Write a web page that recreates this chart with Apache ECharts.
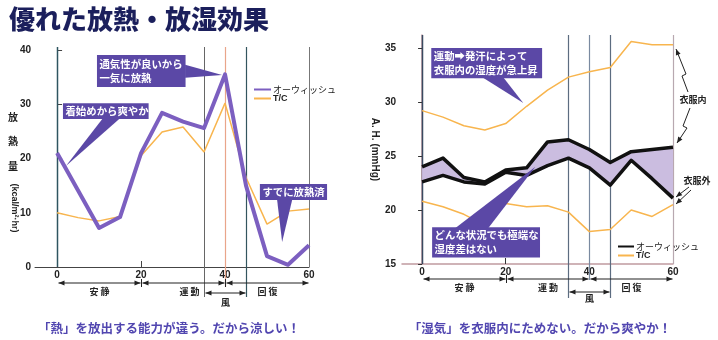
<!DOCTYPE html>
<html><head><meta charset="utf-8">
<script src="https://cdn.jsdelivr.net/npm/echarts@6/dist/echarts.min.js"></script>
<style>html,body{margin:0;padding:0;background:#fff}#c{width:718px;height:340px}</style>
</head><body><div id="c"></div>
<script>
// ---- data ----
const chartTitle = '優れた放熱・放湿効果';
const times = [0, 5, 10, 15, 20, 25, 30, 35, 40, 45, 50, 55, 60];
const xTickLabels = [0, 20, 40, 60];
// left: 放熱量 (kcal/m²·hr)
const heatOwish = [21, null, 7.2, 9.2, 21, 28.4, 26.8, 25.6, 35.5, 15, 2.0, 0.4, 4];
const heatTC    = [10, 9.1, 8.5, 9.3, 20.5, 24.9, 25.8, 21.2, 30.2, 16.5, 7.9, 10.3, 10.7];
const heatYTicks = [0, 10, 20, 30, 40];
// right: A.H. (mmHg)
const ahOwishIn  = [24.0, 24.8, 23.0, 22.6, 23.7, 23.9, 26.3, 26.5, 25.6, 24.4, 25.4, 25.6, 25.8];
const ahOwishOut = [22.6, 23.2, 22.6, 22.4, 23.5, 23.2, 24.1, 24.8, 23.9, 22.3, 24.6, 22.9, 21.1];
const ahTCIn     = [29.2, 28.6, 27.8, 27.4, 28.0, 29.6, 31.1, 32.3, 32.8, 33.2, 35.6, 35.3, 35.3];
const ahTCOut    = [20.8, 20.3, 19.6, 18.6, 20.6, 20.3, 20.4, 19.8, 18.0, 18.2, 20.0, 19.4, 20.5];
const ahYTicks = [15, 20, 25, 30, 35];
// phases
const phases = [
  {name: '安 静', from: 0, to: 20},
  {name: '運 動', from: 20, to: 40},
  {name: '回 復', from: 40, to: 60}
];
const windPhase = {name: '風', from: 35, to: 45};
const captionLeft = '「熱」を放出する能力が違う。だから涼しい！';
const captionRight = '「湿気」を衣服内にためない。だから爽やか！';

const FONT = '"Noto Sans CJK JP", "Noto Sans", sans-serif';
const NUM = '"Liberation Sans", Arial, sans-serif';
const PURPLE = '#7c5fc0', ORANGE = '#f8b54e', BLACK = '#111', BOX = '#5b48a6', BAND = '#cbbde0';

const pairs = (arr) => times.map((t, i) => [t, arr[i]]).filter(p => p[1] != null);

const chart = echarts.init(document.getElementById('c'));
const axisLbl = {fontSize: 10, fontWeight: 'bold', color: '#222', fontFamily: NUM};
const legendText = {fontSize: 9, color: '#222', fontFamily: FONT, padding: [0, 0, 0, -3],
  rich: {b: {fontSize: 9, fontWeight: 'bold', color: '#222', fontFamily: NUM}}};
const legendFmt = n => { const s = n.replace(/\(.*\)$/, ''); return s === 'T/C' ? '{b|T/C}' : s; };
const noSym = {color: 'rgba(0,0,0,0)', borderWidth: 0, opacity: 0};
const option = {
  animation: false,
  backgroundColor: '#fff',
  title: {text: chartTitle, left: 4, top: 1, textStyle: {fontSize: 26, fontWeight: 900, color: '#1b1f5c', fontFamily: FONT}},
  grid: [
    {left: 35, top: 50, width: 274, height: 217},
    {left: 402, top: 35, width: 271, height: 229}
  ],
  xAxis: [
    {type: 'value', gridIndex: 0, min: -5.26, max: 60,
     axisLine: {lineStyle: {color: '#444'}},
     axisTick: {inside: true, length: 6, customValues: xTickLabels, lineStyle: {color: '#444'}},
     axisLabel: Object.assign({customValues: xTickLabels, margin: 3}, axisLbl),
     splitLine: {show: false}},
    {type: 'value', gridIndex: 1, min: -4.8, max: 60,
     axisLine: {lineStyle: {color: '#c09aa0', width: 1.5}},
     axisTick: {inside: true, length: 6, customValues: xTickLabels, lineStyle: {color: '#333'}},
     axisLabel: Object.assign({customValues: xTickLabels, margin: 3}, axisLbl),
     splitLine: {show: false}}
  ],
  yAxis: [
    {type: 'value', gridIndex: 0, min: 0, max: 40,
     axisLine: {show: true, lineStyle: {color: '#444'}},
     axisTick: {show: true, inside: true, length: 5, customValues: heatYTicks, lineStyle: {color: '#444'}},
     axisLabel: Object.assign({customValues: heatYTicks, margin: 4}, axisLbl),
     splitLine: {show: false}},
    {type: 'value', gridIndex: 1, min: 15, max: 36.2,
     name: 'A. H. (mmHg)', nameLocation: 'middle', nameRotate: -90, nameGap: 22,
     nameTextStyle: {fontSize: 10, fontWeight: 'bold', color: '#222', fontFamily: NUM},
     axisLine: {show: true, lineStyle: {color: '#c09aa0', width: 1.5}},
     axisTick: {show: true, length: 4, customValues: ahYTicks, lineStyle: {color: '#333'}},
     axisLabel: Object.assign({customValues: ahYTicks, margin: 6}, axisLbl),
     splitLine: {show: false}}
  ],
  legend: [
    {orient: 'vertical', left: 248, top: 80, itemWidth: 17, itemHeight: 8, itemGap: 0,
     selectedMode: false, data: ['オーウィッシュ', 'T/C'], itemStyle: noSym,
     formatter: legendFmt, textStyle: legendText},
    {orient: 'vertical', left: 612, top: 237, itemWidth: 16, itemHeight: 8, itemGap: 0,
     selectedMode: false, data: ['オーウィッシュ(衣服内)', 'T/C(衣服内)'], itemStyle: noSym,
     formatter: legendFmt, textStyle: legendText}
  ],
  series: [
    {name: 'T/C', type: 'line', xAxisIndex: 0, yAxisIndex: 0, data: pairs(heatTC),
     symbol: 'none', lineStyle: {color: ORANGE, width: 1.5}, itemStyle: {color: ORANGE}, z: 3},
    {name: 'オーウィッシュ', type: 'line', xAxisIndex: 0, yAxisIndex: 0, data: pairs(heatOwish),
     connectNulls: true, symbol: 'none', lineStyle: {color: PURPLE, width: 4, join: 'round'}, itemStyle: {color: PURPLE}, z: 4},
    {name: 'band', type: 'custom', xAxisIndex: 1, yAxisIndex: 1, data: [[0, 20]], silent: true, z: 2,
     renderItem: (params, api) => {
       const pts = times.map((t, i) => api.coord([t, ahOwishIn[i]]))
         .concat(times.map((t, i) => api.coord([t, ahOwishOut[i]])).reverse());
       return {type: 'polygon', shape: {points: pts}, style: {fill: BAND}};
     }},
    {name: 'T/C(衣服内)', type: 'line', xAxisIndex: 1, yAxisIndex: 1, data: pairs(ahTCIn),
     symbol: 'none', lineStyle: {color: ORANGE, width: 1.5}, itemStyle: {color: ORANGE}, z: 3},
    {name: 'T/C(衣服外)', type: 'line', xAxisIndex: 1, yAxisIndex: 1, data: pairs(ahTCOut),
     symbol: 'none', lineStyle: {color: ORANGE, width: 1.5}, itemStyle: {color: ORANGE}, z: 3},
    {name: 'オーウィッシュ(衣服内)', type: 'line', xAxisIndex: 1, yAxisIndex: 1, data: pairs(ahOwishIn),
     symbol: 'none', lineStyle: {color: BLACK, width: 3.5, join: 'round'}, itemStyle: {color: BLACK}, z: 4},
    {name: 'オーウィッシュ(衣服外)', type: 'line', xAxisIndex: 1, yAxisIndex: 1, data: pairs(ahOwishOut),
     symbol: 'none', lineStyle: {color: BLACK, width: 3.5, join: 'round'}, itemStyle: {color: BLACK}, z: 4}
  ]
};
chart.setOption(option);

// ---- annotations, positioned through the axes ----
const P0 = (x, y) => chart.convertToPixel({xAxisIndex: 0, yAxisIndex: 0}, [x, y]);
const P1 = (x, y) => chart.convertToPixel({xAxisIndex: 1, yAxisIndex: 1}, [x, y]);
const g = [];
const X = (P, x) => Math.round(P(x, 20)[0]) + 0.5;

function vline(P, x, y1, y2, color, w) {
  const px = X(P, x);
  g.push({type: 'line', silent: true, z: 1, shape: {x1: px, y1: y1, x2: px, y2: y2}, style: {stroke: color, lineWidth: w || 1}});
}
function head(x, y, dir) {
  g.push({type: 'polygon', silent: true, z: 5, shape: {points: [[x, y], [x - dir * 6, y - 2.5], [x - dir * 6, y + 2.5]]}, style: {fill: '#222'}});
}
function harrow(P, a, b, y, gap) {
  const x1 = X(P, a) + gap, x2 = X(P, b) - gap;
  g.push({type: 'line', silent: true, z: 5, shape: {x1: x1, y1: y, x2: x2, y2: y}, style: {stroke: '#222', lineWidth: 1.2}});
  head(x1, y, -1); head(x2, y, 1);
}
function label(x, y, text, size, color, weight, align) {
  g.push({type: 'text', silent: true, z: 6, x: x, y: y,
    style: {text: text, fill: color || '#222', font: (weight || 'bold') + ' ' + (size || 10) + 'px ' + FONT, align: align || 'center', verticalAlign: 'middle'}});
}
function callout(P, box, lines, ptr) {
  const a = P(box[0], box[1]), b = P(box[2], box[3]);
  const pts = ptr.map(p => P(p[0], p[1]));
  g.push({type: 'polygon', silent: true, z: 20, shape: {points: pts}, style: {fill: BOX}});
  g.push({type: 'rect', silent: true, z: 20, shape: {x: a[0], y: a[1], width: b[0] - a[0], height: b[1] - a[1]}, style: {fill: BOX}});
  g.push({type: 'text', silent: true, z: 21, x: a[0] + 2.5, y: (a[1] + b[1]) / 2,
    style: {text: lines.join('\n'), fill: '#fff', font: 'bold 10.4px ' + FONT, align: 'left', verticalAlign: 'middle', lineHeight: 14}});
}
function zig(points) {
  g.push({type: 'polyline', silent: true, z: 5, shape: {points: points}, style: {stroke: '#222', lineWidth: 1, fill: null}});
  const p = points[points.length - 1], q = points[points.length - 2];
  const ang = Math.atan2(p[1] - q[1], p[0] - q[0]);
  const L = 6, W = 2.5;
  const bx = p[0] - L * Math.cos(ang), by = p[1] - L * Math.sin(ang);
  g.push({type: 'polygon', silent: true, z: 5, shape: {points: [p,
    [bx + W * Math.sin(ang), by - W * Math.cos(ang)], [bx - W * Math.sin(ang), by + W * Math.cos(ang)]]}, style: {fill: '#222'}});
}

// left chart dividers
const lTop = 47, lBot = P0(0, 0)[1];
vline(P0, 0, lTop, lBot, '#2f5560', 1.5);
vline(P0, 35, lTop, lBot + 30, '#666', 1);
vline(P0, 40, lTop, lBot + 20, '#e9a58a', 1.2);
vline(P0, 45, lTop, lBot + 30, '#33555e', 1.2);
vline(P0, 60, lTop, lBot, '#777', 1);
phases.forEach(ph => { harrow(P0, ph.from, ph.to, lBot + 16, 1); label((X(P0, ph.from) + X(P0, ph.to)) / 2 + (ph.from === 20 ? 6 : 0), lBot + 25, ph.name, 9); });
[20, 40].forEach(x => { const px = X(P0, x); g.push({type: 'line', silent: true, z: 5, shape: {x1: px, y1: lBot + 12, x2: px, y2: lBot + 20}, style: {stroke: '#222', lineWidth: 1}}); });
harrow(P0, windPhase.from, windPhase.to, lBot + 26, 1);
label(X(P0, 40), lBot + 36, windPhase.name, 9);
// left y-axis title
label(13, 117, '放', 10); label(13, 141, '熱', 10); label(13, 166, '量', 10);
g.push({type: 'text', silent: true, z: 6, x: 14, y: 208, rotation: -Math.PI / 2,
  style: {text: '(kcal/m²·hr)', fill: '#222', font: 'bold 9px ' + NUM, align: 'center', verticalAlign: 'middle'}});
// left callouts
callout(P0, [9.5, 39.1, 30.6, 33.2], ['通気性が良いから', '一気に放熱'], [[30.5, 37.3], [30.5, 34.9], [39.3, 35.4]]);
callout(P0, [1.4, 30.2, 21.8, 27.3], ['着始めから爽やか'], [[10.9, 27.4], [15, 27.4], [2.1, 18.6]]);
callout(P0, [48.3, 15.3, 64.3, 12.35], ['すでに放熱済'], [[52.4, 12.4], [56, 12.4], [53.6, 4.6]]);

// right chart dividers
const rTop = 35, rBot = P1(0, 15)[1];
vline(P1, 0, rTop, rBot, '#3a4a60', 1.5);
vline(P1, 35, rTop, rBot + 34, '#5c6c80', 1.2);
vline(P1, 40, rTop, rBot + 16, '#7a8aa0', 1.2);
vline(P1, 45, rTop, rBot + 34, '#5c6c80', 1.2);
vline(P1, 60, rTop, rBot, '#b8a8b0', 1.2);
phases.forEach(ph => { harrow(P1, ph.from, ph.to, rBot + 15, 1); label((X(P1, ph.from) + X(P1, ph.to)) / 2, rBot + 24, ph.name, 9); });
[20].forEach(x => { const px = X(P1, x); g.push({type: 'line', silent: true, z: 5, shape: {x1: px, y1: rBot + 11, x2: px, y2: rBot + 19}, style: {stroke: '#222', lineWidth: 1}}); });
harrow(P1, windPhase.from, windPhase.to, rBot + 28, 1);
label(X(P1, 40), rBot + 35, windPhase.name, 9);
// right callouts
callout(P1, [2.2, 35.0, 28.7, 32.2], ['運動➡発汗によって', '衣服内の湿度が急上昇'], [[14.4, 32.3], [19.4, 32.3], [24.2, 29.9]]);
callout(P1, [2.4, 18.4, 28.2, 15.6], ['どんな状況でも極端な', '湿度差はない'], [[7.9, 18.3], [15.8, 18.3], [27.1, 24.0]]);
// side notes
label(693, 100, '衣服内', 9);
label(697, 181, '衣服外', 9);
zig([[688, 92], [682, 76], [686, 74], [676, 49]]);
zig([[690, 108], [683, 126], [687, 128], [677, 143]]);
zig([[689, 187], [676, 197]]);
zig([[691, 190], [676, 204]]);
// captions
label(169, 328, captionLeft, 12.5, '#5146b0');
label(540, 328, captionRight, 12.5, '#5146b0');

chart.setOption({graphic: g});
</script>
</body></html>
